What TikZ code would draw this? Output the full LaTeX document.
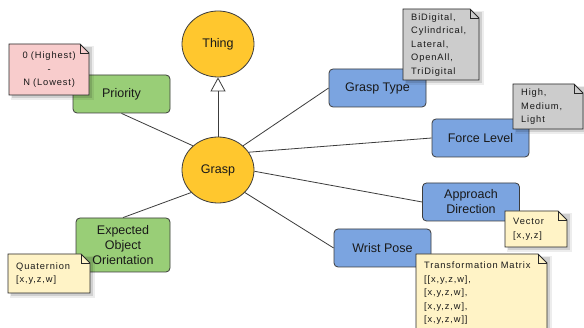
\documentclass[tikz,border=0pt]{standalone}
\usepackage{fontspec}
\setmainfont{Liberation Sans}
\newfontfamily\notefont[LetterSpace=9.4]{Liberation Sans}
\usetikzlibrary{shapes.geometric,arrows.meta}
\definecolor{circfill}{RGB}{255,199,46}
\definecolor{greenfill}{RGB}{153,206,119}
\definecolor{bluefill}{RGB}{123,164,224}
\definecolor{pinkfill}{RGB}{248,204,204}
\definecolor{grayfill}{RGB}{204,204,204}
\definecolor{yellownote}{RGB}{255,243,198}
\definecolor{edgecol}{RGB}{60,60,60}
\definecolor{notedraw}{RGB}{40,40,40}
\definecolor{txtcol}{RGB}{25,25,25}
\pgfdeclarelayer{notebg}
\pgfdeclarelayer{notefg}
\pgfsetlayers{main,notebg,notefg}
\tikzset{
  circnode/.style={ellipse, draw=edgecol, line width=0.8pt, fill=circfill,
    minimum width=72, minimum height=66, inner sep=0pt, text=txtcol,
    font=\fontsize{12.5}{15}\selectfont},
  boxnode/.style={rectangle, rounded corners=4pt, draw=edgecol, line width=0.8pt,
    minimum width=97, minimum height=38, inner sep=2pt, align=center, text=txtcol,
    font=\fontsize{12.5}{15}\selectfont},
  greenbox/.style={boxnode, fill=greenfill},
  bluebox/.style={boxnode, fill=bluefill},
  notetext/.style={rectangle, inner xsep=8pt, inner ysep=0pt, text=txtcol,
    font=\notefont\fontsize{9.3}{13.5}\selectfont},
  conn/.style={draw=edgecol, line width=0.8pt},
}
% #1 name, #2 x, #3 y (north west), #4 width, #5 height, #6 fill, #7 options, #8 text
\newcommand\notebox[8]{%
  \begin{pgfonlayer}{notebg}
    \fill[black,opacity=0.07] (#2+2,#3+2) rectangle ++(#4+3,#5+3);
    \fill[black,opacity=0.12] (#2+3,#3+3) rectangle ++(#4,#5);
    \filldraw[fill=#6,draw=notedraw,line width=0.8pt]
      (#2,#3) -- ++(#4-9,0) -- ++(9,9) -- (#2+#4,#3+#5) -- (#2,#3+#5) -- cycle;
    \draw[draw=notedraw,line width=0.8pt] (#2+#4-9,#3) -- ++(0,9) -- ++(9,0);
  \end{pgfonlayer}
  \begin{pgfonlayer}{notefg}
    \node[notetext,#7,minimum width=#4,minimum height=#5,anchor=north west] (#1) at (#2,#3) {#8};
  \end{pgfonlayer}}
\begin{document}
\begin{tikzpicture}[x=1pt,y=-1pt]
\useasboundingbox (0,0) rectangle (584,328);
\fill[white] (0,0) rectangle (584,328);

\node[circnode] (thing) at (218,44) {Thing};
\node[circnode] (grasp) at (218,170) {Grasp};

\node[greenbox] (priority) at (121.5,94) {Priority};
\node[greenbox, minimum width=94, minimum height=54] (eoo) at (123,245) {Expected\\Object\\Orientation};
\node[bluebox] (gtype) at (377.5,88) {Grasp Type};
\node[bluebox] (force) at (480.5,138) {Force Level};
\node[bluebox] (approach) at (471,202) {Approach\\Direction};
\node[bluebox] (wrist) at (382.5,248) {Wrist Pose};

\draw[conn, -{Triangle[width=15pt,length=14pt,fill=white]}] (grasp.north) -- (thing.south);
\draw[conn] (grasp.136) -- (priority.south);
\draw[conn] (grasp.44) -- (gtype.west);
\draw[conn] (grasp.30) -- (force.west);
\draw[conn] (grasp.-2) -- (approach.west);
\draw[conn] (grasp.-40) -- (wrist.west);
\draw[conn] (grasp.220) -- (eoo.north);

\notebox{prionote}{9}{44}{80}{51}{pinkfill}{align=center, text width=64}{0 (Highest)\\-\\N (Lowest)}
\notebox{typenote}{403}{9}{76}{71}{grayfill}{align=left, text width=62}{BiDigital,\\Cylindrical,\\Lateral,\\OpenAll,\\TriDigital}
\notebox{forcenote}{513}{84}{70}{45}{grayfill}{align=left, text width=56}{High,\\Medium,\\Light}
\notebox{vecnote}{505}{211}{62}{36}{yellownote}{align=left, text width=48}{Vector\\{[x,y,z]}}
\notebox{matnote}{416}{254}{131}{78}{yellownote}{align=left, text width=122}{Transformation Matrix\\{[[x,y,z,w],}\\{[x,y,z,w],}\\{[x,y,z,w],}\\{[x,y,z,w]]}}
\notebox{quatnote}{8}{254}{82}{39}{yellownote}{align=left, text width=68}{Quaternion\\{[x,y,z,w]}}
\end{tikzpicture}
\end{document}
